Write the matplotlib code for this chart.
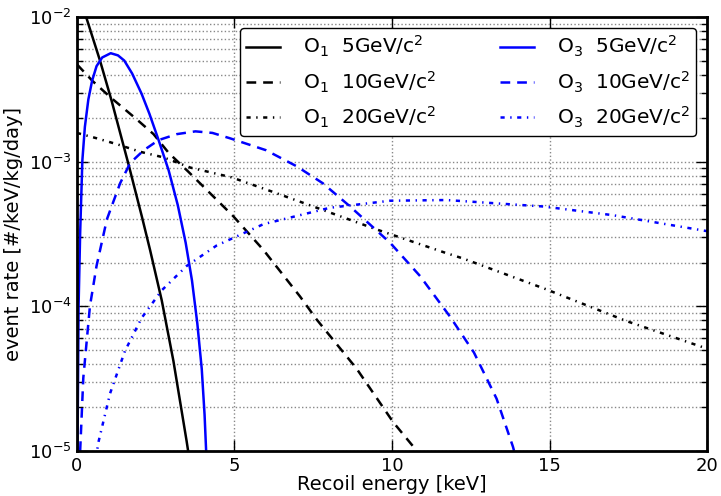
import matplotlib
matplotlib.use('Agg')
import matplotlib.pyplot as plt
from matplotlib.ticker import LogLocator, NullLocator

plt.rcParams['lines.scale_dashes'] = False
plt.rcParams['mathtext.default'] = 'regular'

# recoil energy [keV] and event rate [#/keV/kg/day]
e_o1_5 = [0.0, 0.29, 0.73, 1.1, 1.64, 2.06, 2.32, 2.69, 3.06, 3.48, 3.6]
r_o1_5 = [1.58e-2, 1.0e-2, 5.0e-3, 2.63e-3, 9.5e-4, 4.17e-4, 2.45e-4, 1.1e-4, 4.2e-5, 1.17e-5, 7.9e-6]

e_o1_10 = [0.0, 0.5, 1.05, 1.85, 2.43, 2.91, 3.54, 4.96, 5.92, 7.08, 7.61, 8.88, 10.04, 10.68, 10.9]
r_o1_10 = [4.7e-3, 3.6e-3, 2.8e-3, 2.0e-3, 1.55e-3, 1.15e-3, 8.5e-4, 4.2e-4, 2.45e-4, 1.17e-4,
           8.1e-5, 3.7e-5, 1.58e-5, 1.07e-5, 8.9e-6]

e_o1_20 = [0.0, 0.63, 1.27, 2.01, 2.75, 3.6, 4.9, 6.2, 7.5, 9.51, 11.68, 12.26, 14.86, 17.45, 20.0]
r_o1_20 = [1.58e-3, 1.45e-3, 1.32e-3, 1.17e-3, 1.07e-3, 9.1e-4, 7.8e-4, 6.2e-4, 4.9e-4, 3.4e-4,
           2.35e-4, 2.14e-4, 1.32e-4, 7.9e-5, 5.1e-5]

e_o3_5 = [0.016, 0.05, 0.1, 0.17, 0.25, 0.36, 0.48, 0.62, 0.8, 1.07, 1.3, 1.5, 1.75, 2.05, 2.3,
          2.59, 2.91, 3.2, 3.45, 3.65, 3.82, 3.96, 4.05, 4.12]
r_o3_5 = [1.0e-5, 1.0e-4, 3.2e-4, 1.02e-3, 1.74e-3, 2.69e-3, 3.63e-3, 4.57e-3, 5.25e-3, 5.62e-3,
          5.43e-3, 5.0e-3, 4.07e-3, 2.95e-3, 2.14e-3, 1.41e-3, 8.7e-4, 5.0e-4, 2.75e-4, 1.51e-4,
          7.6e-5, 3.7e-5, 1.78e-5, 7.9e-6]

e_o3_10 = [0.1, 0.2, 0.41, 0.62, 0.95, 1.37, 1.69, 2.12, 2.59, 3.17, 3.76, 4.3, 4.86, 6.0, 6.97,
           7.8, 8.67, 9.94, 10.89, 11.84, 12.6, 13.32, 13.84, 14.0]
r_o3_10 = [1.0e-5, 3.2e-5, 1.0e-4, 1.9e-4, 4.0e-4, 7.1e-4, 9.8e-4, 1.2e-3, 1.41e-3, 1.55e-3,
           1.62e-3, 1.58e-3, 1.45e-3, 1.2e-3, 9.3e-4, 7.1e-4, 4.9e-4, 2.75e-4, 1.62e-4, 8.5e-5,
           4.8e-5, 2.3e-5, 1.07e-5, 7.9e-6]

e_o3_20 = [0.6, 0.68, 1.05, 1.52, 2.05, 2.69, 3.48, 4.43, 5.92, 8.03, 9.94, 11.73, 14.8, 17.0, 20.0]
r_o3_20 = [8.9e-6, 1.15e-5, 2.5e-5, 4.9e-5, 8.3e-5, 1.29e-4, 1.9e-4, 2.63e-4, 3.7e-4, 4.8e-4,
           5.37e-4, 5.43e-4, 4.9e-4, 4.27e-4, 3.31e-4]

labels = [r'O$_1$  5GeV/c$^2$', r'O$_1$  10GeV/c$^2$', r'O$_1$  20GeV/c$^2$',
          r'O$_3$  5GeV/c$^2$', r'O$_3$  10GeV/c$^2$', r'O$_3$  20GeV/c$^2$']

fig = plt.figure(figsize=(7.21, 4.96), dpi=100)
ax = fig.add_axes([77 / 721, 1 - 451 / 496, 630 / 721, 434 / 496])

lw = 1.8
dash = (7, 5)
dashdot = (3, 4, 1, 4)
ax.plot(e_o1_5, r_o1_5, color='k', lw=lw, label=labels[0])
ax.plot(e_o1_10, r_o1_10, color='k', lw=lw, dashes=dash, label=labels[1])
ax.plot(e_o1_20, r_o1_20, color='k', lw=lw, dashes=dashdot, label=labels[2])
ax.plot(e_o3_5, r_o3_5, color='#0000ff', lw=lw, label=labels[3])
ax.plot(e_o3_10, r_o3_10, color='#0000ff', lw=lw, dashes=dash, label=labels[4])
ax.plot(e_o3_20, r_o3_20, color='#0000ff', lw=lw, dashes=dashdot, label=labels[5])

ax.set_yscale('log')
ax.set_xlim(0, 20)
ax.set_ylim(1e-5, 1e-2)
ax.set_xticks([0, 5, 10, 15, 20])
ax.xaxis.set_minor_locator(NullLocator())
ax.yaxis.set_minor_locator(LogLocator(base=10, subs=range(2, 10)))

ax.grid(True, which='major', axis='x', linestyle=':', color='#888888', lw=1)
ax.grid(True, which='both', axis='y', linestyle=':', color='#888888', lw=1)

ax.tick_params(which='both', direction='in', top=True, right=True, labelsize=13)
ax.tick_params(axis='x', pad=4)
ax.tick_params(axis='y', pad=4)
ax.tick_params(which='major', length=8, width=1)
ax.tick_params(which='minor', length=4, width=1)
for s in ax.spines.values():
    s.set_linewidth(2)

ax.set_xlabel('Recoil energy [keV]', fontsize=14, labelpad=0)
ax.set_ylabel('event rate [#/keV/kg/day]', fontsize=14, labelpad=4)

leg = ax.legend(ncol=2, loc='upper right', fontsize=14.5, handlelength=1.7, handletextpad=1.1,
                labelspacing=0.5, columnspacing=3.2, borderaxespad=0.55, borderpad=0.3,
                fancybox=True, framealpha=1, edgecolor='k')
leg.get_frame().set_linewidth(1)

fig.savefig('out.png', dpi=100)
